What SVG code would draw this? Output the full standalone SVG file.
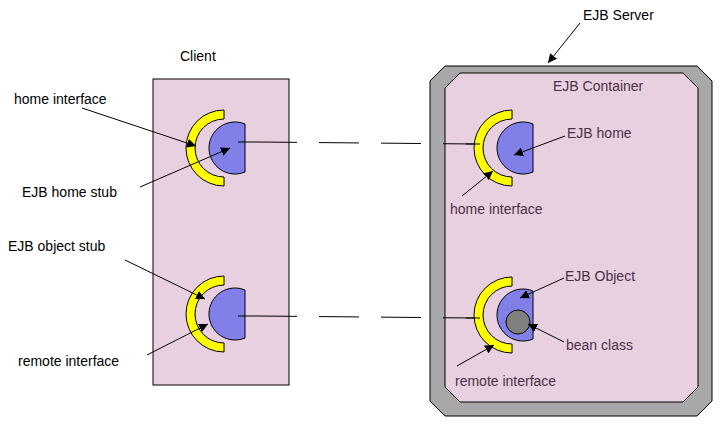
<svg xmlns="http://www.w3.org/2000/svg" width="721" height="427" viewBox="0 0 721 427">
<defs>
<marker id="ah" viewBox="0 0 10 10" refX="10" refY="5" markerWidth="9" markerHeight="9" markerUnits="userSpaceOnUse" orient="auto"><path d="M0,0 L10,5 L0,10 z" fill="#000"/></marker>
<style>
text{font-family:"Liberation Sans",Arial,sans-serif;font-size:14px}
.d{fill:#4a3048}
.y{fill:#ffff00;stroke:#000;stroke-width:1}
.b{fill:#8080e8;stroke:#000;stroke-width:1}
.l{stroke:#000;stroke-width:1;fill:none}
.a{stroke:#000;stroke-width:1;fill:none;marker-end:url(#ah)}
</style>
</defs>
<rect width="721" height="427" fill="#fff"/>
<g id="client">
<rect x="153" y="79" width="136" height="306" fill="#e8d0e0" stroke="#000"/>
<text x="180" y="61">Client</text>
</g>
<g id="server">
<path d="M445,66 L697,66 L712,81 L712,401 L697,416 L445,416 L430,401 L430,81 Z" fill="#a8a8a8" stroke="#000"/>
<path d="M460,73 L683,73 L698,88 L698,387 L683,402 L460,402 L445,387 L445,88 Z" fill="#e8d0e0" stroke="#000"/>
<text x="553" y="91" class="d" font-size="16">EJB Container</text>
<text x="583" y="20" font-size="16">EJB Server</text>
</g>
<g id="stubHome">
<path class="y" d="M224,110 A38,38 0 0 0 224,186 L224,177 A29,29 0 0 1 224,119 Z"/>
<path class="b" d="M245,124 A26,26 0 1 0 245,172 Z"/>
</g>
<g id="stubObject">
<path class="y" d="M224,276 A38,38 0 0 0 224,352 L224,343 A29,29 0 0 1 224,285 Z"/>
<path class="b" d="M245,290 A26,26 0 1 0 245,338 Z"/>
</g>
<g id="ejbHome">
<path class="y" d="M512,110 A38,38 0 0 0 512,186 L512,177 A29,29 0 0 1 512,119 Z"/>
<path class="b" d="M533,124 A26,26 0 1 0 533,172 Z"/>
</g>
<g id="ejbObject">
<path class="y" d="M512,277 A38,38 0 0 0 512,353 L512,344 A29,29 0 0 1 512,286 Z"/>
<path class="b" d="M533,291 A26,26 0 1 0 533,339 Z"/>
<circle cx="518" cy="322" r="12" fill="#808080" stroke="#000"/>
</g>
<g id="connectors">
<path class="l" d="M238,142 L257,142" />
<path class="l" d="M238,316 L257,316" />
<path class="l" d="M257,142 L475,144" stroke-dasharray="40,22"/>
<path class="l" d="M257,316 L475,318" stroke-dasharray="40,22"/>
<path class="l" d="M466,144 L480,144"/>
<path class="l" d="M466,318 L480,318"/>
<path class="a" d="M82,108 L196,146"/>
<path class="a" d="M140,187 L230,148"/>
<path class="a" d="M125,260 L205,299"/>
<path class="a" d="M147,355 L208,324"/>
<path class="a" d="M565,136 L514,155"/>
<path class="a" d="M462,196 L493,171"/>
<path class="a" d="M564,278 L520,298"/>
<path class="a" d="M564,342 L528,324"/>
<path class="a" d="M457,366 L494,345"/>
<path class="a" d="M580,23 L548,63"/>
</g>
<g id="labels">
<text x="14" y="104">home interface</text>
<text x="22" y="197">EJB home stub</text>
<text x="8" y="251">EJB object stub</text>
<text x="18" y="366">remote interface</text>
<text x="567" y="138" class="d">EJB home</text>
<text x="450" y="214" class="d">home interface</text>
<text x="565" y="281" class="d">EJB Object</text>
<text x="566" y="350" class="d">bean  class</text>
<text x="455" y="386" class="d">remote interface</text>
</g>
</svg>
